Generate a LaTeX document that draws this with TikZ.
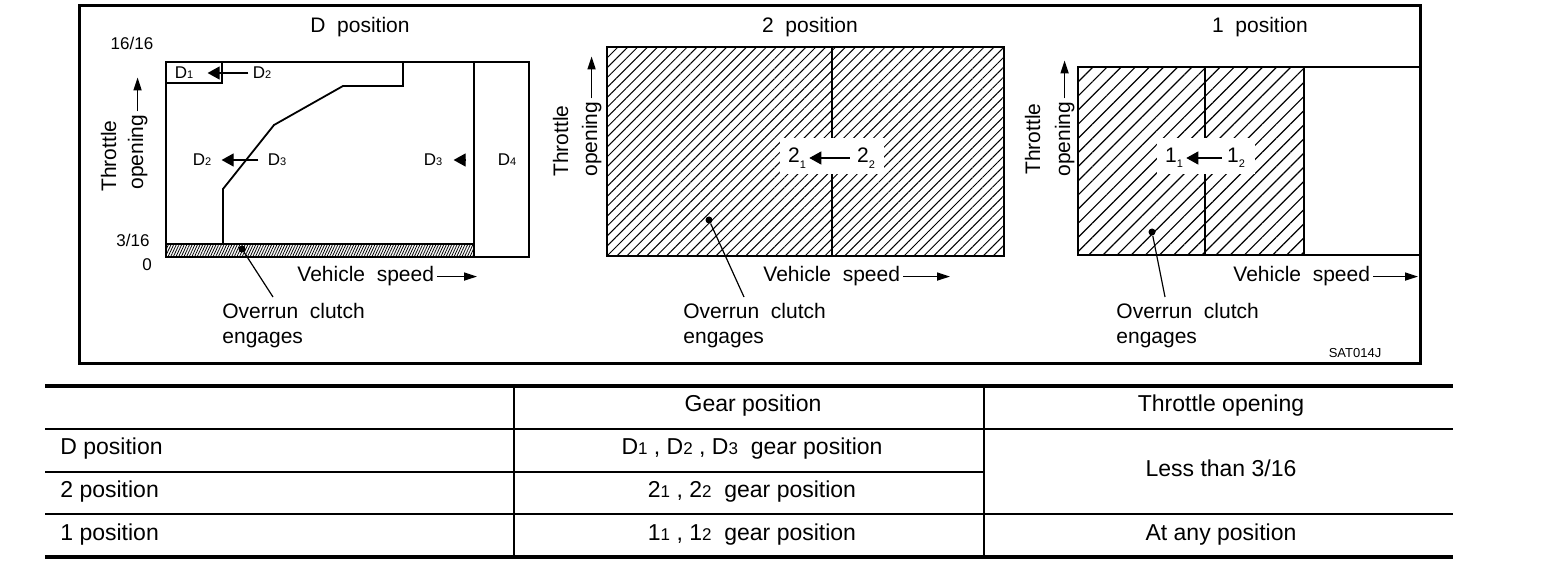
\documentclass[tikz,border=0pt]{standalone}
\usepackage{fontspec}
\setmainfont{Liberation Sans}
\usetikzlibrary{arrows.meta,positioning,calc,patterns.meta}
\newcommand{\dsub}[1]{{\fontsize{5.5}{6}\selectfont #1}}
\newcommand{\lsub}[1]{\raisebox{-0.5ex}{\fontsize{5.5}{6}\selectfont #1}}
\newcommand{\tsub}[1]{{\fontsize{8.5}{9}\selectfont #1}}

\begin{document}
\begin{tikzpicture}[x=0.5pt,y=-0.5pt,>=Latex,
  lbl/.style={font=\fontsize{10.5}{12.5}\selectfont, inner sep=0pt},
  small/.style={font=\fontsize{8.5}{10}\selectfont, inner sep=0pt},
  glbl/.style={font=\fontsize{10.5}{12}\selectfont, inner sep=0pt},
  tbl/.style={font=\fontsize{11.5}{13}\selectfont, inner sep=0pt},
  gear/.style={-{Triangle[length=6pt,width=6.5pt]}, line width=0.6pt},
  axis/.style={-{Triangle[length=6.5pt,width=4pt]}, line width=0.8pt},
  dot/.style={circle, fill, inner sep=0pt, minimum size=3.5pt},
  hatch/.style={pattern={Lines[angle=45,distance=#1,line width=0.5pt]}},
  gapbox/.style={fill=white, inner sep=0pt},
  box/.style={line width=0.9pt}]
  \useasboundingbox (0,0) rectangle (1568,566);
  \draw[line width=1.5pt] (79,6) rectangle (1420,364);

  % D position
  \fill[pattern={Lines[angle=65,distance=1.2pt,line width=0.4pt]}] (166,244) rectangle (474,257);
  \draw[box] (166,62) rectangle (529,257);
  \draw[box] (474,62) -- (474,257);
  \draw[box] (166,244) -- (474,244);
  \draw[box] (166,83) -| (222,62);
  \draw[box] (223,244) -- (223,189) -- (274,125) -- (343,86) -- (403,86) -- (403,62);
  \node[lbl, anchor=base] (titleD) at (360,33) {D\ \ position};
  \node[small] (full) at (132,43) {16/16};
  \node[small] (three) at (133,240) {3/16};
  \node[small] (zero) at (147,265) {0};
  \node[lbl, rotate=90, anchor=base west] (thrD) at (116,192) {Throttle};
  \node[lbl, rotate=90, anchor=base west] (opD) at (143,190) {opening};
  \draw[axis] ([yshift=1.5pt]opD.east) -- ++(0,-34);
  \node[lbl, anchor=base west] (vsD) at (297,282) {Vehicle\ \ speed};
  \coordinate (vsDend) at (477,276);
  \draw[axis] ([xshift=1.5pt]vsD.east) -- (vsD.east -| vsDend);
  \node[small] (d1) at (184,73) {D\dsub{1}};
  \node[small] (d2a) at (262,73) {D\dsub{2}};
  \draw[gear, shorten <=2pt, shorten >=7pt] (d2a) -- (d1);
  \node[small] (d2b) at (202,160) {D\dsub{2}};
  \node[small] (d3a) at (277,160) {D\dsub{3}};
  \draw[gear, shorten <=4.5pt, shorten >=5pt] (d3a) -- (d2b);
  \node[small] (d3b) at (433,160) {D\dsub{3}};
  \coordinate (d34) at (466,160);
  \draw[gear, shorten >=5.5pt] (d34) -- (d3b);
  \node[small] (d4) at (507,160) {D\dsub{4}};
  \node[lbl, align=left, anchor=north west] (ovD) at (222,303) {Overrun\ \ clutch\\engages};
  \node[dot] (dotD) at (242,249) {};
  \draw[line width=0.6pt] (dotD) -- ($(ovD.north west)+(51,-6)$);

  % 2 position
  \fill[hatch=3.5pt] (607,47) rectangle (1004,256);
  \draw[box] (832,47) -- (832,256);
  \node[gapbox, minimum width=52pt, minimum height=18pt] (gap2) at (832,156) {};
  \draw[box] (607,47) rectangle (1004,256);
  \node[lbl, anchor=base] (title2) at (810,33) {2\ \ position};
  \node[lbl, rotate=90, anchor=base west] (thr2) at (568,177) {Throttle};
  \node[lbl, rotate=90, anchor=base west] (op2) at (597,177) {opening};
  \draw[axis] ([yshift=1.5pt]op2.east) -- ++(0,-42);
  \node[lbl, anchor=base west] (vs2) at (763,282) {Vehicle\ \ speed};
  \coordinate (vs2end) at (950,276);
  \draw[axis] ([xshift=1.5pt]vs2.east) -- (vs2.east -| vs2end);
  \node[glbl] (s21) at (797,158) {2\lsub{1}};
  \node[glbl] (s22) at (866,158) {2\lsub{2}};
  \draw[gear, shorten <=3.5pt, shorten >=1.5pt] (s22) -- (s21);
  \node[lbl, align=left, anchor=north west] (ov2) at (683,303) {Overrun\ \ clutch\\engages};
  \node[dot] (dot2) at (709,220) {};
  \draw[line width=0.6pt] (dot2) -- ($(ov2.north west)+(61,-6)$);

  % 1 position
  \fill[pattern={Lines[angle=45,distance=5pt,line width=0.6pt]}] (1078,67) rectangle (1304,255);
  \draw[box] (1205,67) -- (1205,255);
  \node[gapbox, minimum width=49pt, minimum height=18pt] (gap3) at (1206,156) {};
  \draw[box] (1078,67) rectangle (1304,255);
  \draw[line width=0.6pt] (1304,67) -- (1419,67);
  \draw[line width=0.6pt] (1304,255) -- (1419,255);
  \node[lbl, anchor=base] (title1) at (1260,33) {1\ \ position};
  \node[lbl, rotate=90, anchor=base west] (thr1) at (1040,175) {Throttle};
  \node[lbl, rotate=90, anchor=base west] (op1) at (1070,177) {opening};
  \draw[axis] ([yshift=1.5pt]op1.east) -- ++(0,-38);
  \node[lbl, anchor=base west] (vs1) at (1233,282) {Vehicle\ \ speed};
  \coordinate (vs1end) at (1418,276);
  \draw[axis] ([xshift=1.5pt]vs1.east) -- (vs1.east -| vs1end);
  \node[glbl] (s11) at (1174,158) {1\lsub{1}};
  \node[glbl] (s12) at (1236,158) {1\lsub{2}};
  \draw[gear, shorten <=2.5pt, shorten >=1.5pt] (s12) -- (s11);
  \node[lbl, align=left, anchor=north west] (ov1) at (1116,303) {Overrun\ \ clutch\\engages};
  \node[dot] (dot1) at (1152,232) {};
  \draw[line width=0.6pt] (dot1) -- ($(ov1.north west)+(49,-6)$);
  \node[font=\fontsize{6.5}{8}\selectfont, inner sep=0pt] (code) at (1355,353) {SAT014J};

  % table
  \draw[line width=1.8pt] (45,386) -- (1453,386);
  \draw[line width=1.8pt] (45,557) -- (1453,557);
  \draw[line width=0.8pt] (45,429) -- (1453,429);
  \draw[line width=0.8pt] (45,472) -- (984,472);
  \draw[line width=0.8pt] (45,514) -- (1453,514);
  \draw[line width=0.8pt] (514,386) -- (514,557);
  \draw[line width=0.8pt] (984,386) -- (984,557);
  \node[tbl, anchor=base] (hgear) at (753,412) {Gear position};
  \node[tbl, anchor=base] (hthr) at (1221,412) {Throttle opening};
  \node[tbl, anchor=base west] (rowD) at (60,454) {D position};
  \node[tbl, anchor=base west] (row2) at (60,497) {2 position};
  \node[tbl, anchor=base west] (row1) at (60,540) {1 position};
  \node[tbl, anchor=base] (gD) at (752,454) {D\tsub{1} , D\tsub{2} , D\tsub{3}\ \ gear position};
  \node[tbl, anchor=base] (g2) at (752,497) {2\tsub{1} , 2\tsub{2}\ \ gear position};
  \node[tbl, anchor=base] (g1) at (752,540) {1\tsub{1} , 1\tsub{2}\ \ gear position};
  \node[tbl, anchor=base] (less) at (1221,476) {Less than 3/16};
  \node[tbl, anchor=base] (any) at (1221,540) {At any position};
\end{tikzpicture}
\end{document}
